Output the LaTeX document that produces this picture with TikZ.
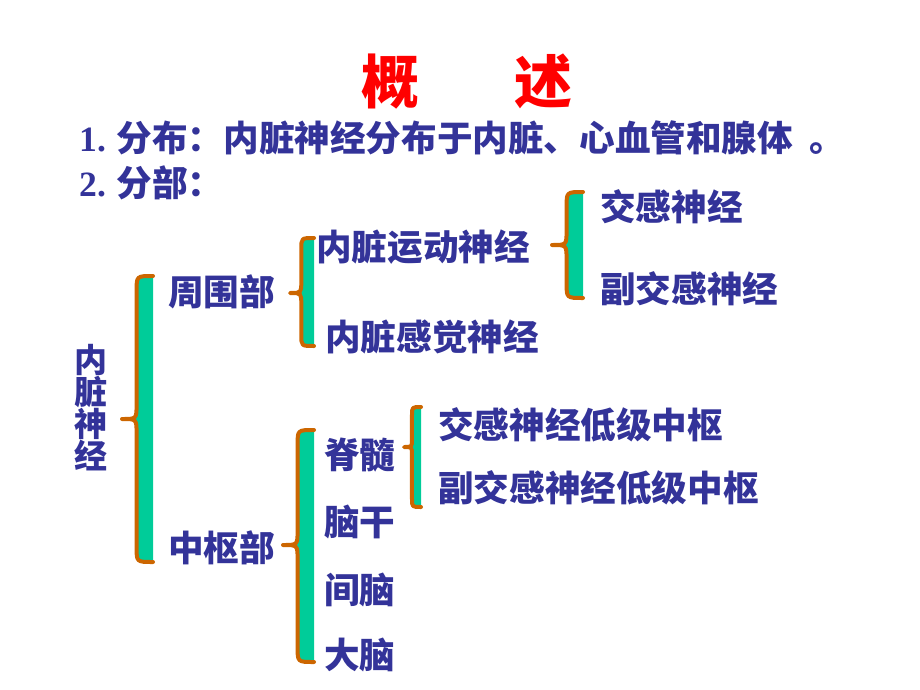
\documentclass[tikz,border=0pt]{standalone}
\usepackage{fontspec}
\usepackage{xcolor}
\usepackage{tikz}
\usetikzlibrary{positioning, calc}

\newfontfamily\cjk{Noto Sans CJK SC}
\newfontfamily\numfont{Liberation Serif}

\definecolor{txtblue}{RGB}{51,51,153}
\definecolor{braceorange}{RGB}{204,102,0}
\definecolor{braceteal}{RGB}{0,204,153}

% curly brace: tip x, right x, top y, bottom y, tip y
\newcommand{\nbrace}[5]{%
	\pgfmathsetmacro{\bsx}{#1+0.47*(#2-#1)}%
	\pgfmathsetmacro{\bcr}{0.9*(#2-\bsx)}%
	\pgfmathsetmacro{\bcq}{1.0*(\bsx-#1)}%
	\fill[braceteal] (#2,#3) .. controls (\bsx,#3) .. (\bsx,#3+\bcr) -- (\bsx,#5-\bcq)
		.. controls (\bsx,#5) .. (#1,#5) .. controls (\bsx,#5) .. (\bsx,#5+\bcq)
		-- (\bsx,#4-\bcr) .. controls (\bsx,#4) .. (#2,#4) -- cycle;
	\draw[braceline] (#2,#3) .. controls (\bsx,#3) .. (\bsx,#3+\bcr) -- (\bsx,#5-\bcq)
		.. controls (\bsx,#5) .. (#1,#5) .. controls (\bsx,#5) .. (\bsx,#5+\bcq)
		-- (\bsx,#4-\bcr) .. controls (\bsx,#4) .. (#2,#4);
}

\begin{document}
\begin{tikzpicture}[
		x=1pt, y=-1pt,
		title/.style={font=\cjk\bfseries\fontsize{58}{60}\selectfont, text=red, inner sep=0pt},
		txt/.style={font=\cjk\bfseries\fontsize{35.6}{40}\selectfont, text=txtblue, inner sep=0pt, anchor=west},
		vtxt/.style={font=\cjk\bfseries\fontsize{33}{32}\selectfont, text=txtblue, inner sep=0pt, align=center},
		braceline/.style={draw=braceorange, line width=4pt, line join=round, line cap=round}
		]
		
		\useasboundingbox (0,0) rectangle (920,690);
		
		% Title and intro lines
		\node[title] (head) at (467,82) {概\hspace{96pt}述};
		\node[txt] (line1) at (79,138) {{\numfont\bfseries 1.} 分布：内脏神经分布于内脏、心血管和腺体\hspace{0.45em}。};
		\node[txt] (line2) at (79,183) {{\numfont\bfseries 2.} 分部：};
		
		% Root
		\node[vtxt] (root) at (91,408) {内\\脏\\神\\经};
		
		% Peripheral part
		\node[txt] (peri) at (168,292) {周围部};
		\node[txt] (motor) at (316,247) {内脏运动神经};
		\node[txt] (sensory) at (325,337) {内脏感觉神经};
		\node[txt] (symp) at (600,207) {交感神经};
		\node[txt] (parasymp) at (600,289) {副交感神经};
		
		% Central part
		\node[txt] (central) at (168,548) {中枢部};
		\node[txt] (spinal) at (324,455) {脊髓};
		\node[txt] (stem) at (324,522) {脑干};
		\node[txt] (dien) at (324,590) {间脑};
		\node[txt] (cerebrum) at (324,655) {大脑};
		\node[txt] (sympc) at (438,425) {交感神经低级中枢};
		\node[txt] (parasympc) at (438,488) {副交感神经低级中枢};
		
		% Braces
		\nbrace{122}{153}{276}{562}{419}
		\nbrace{290}{314}{238}{346}{293}
		\nbrace{552}{583}{192}{298}{245}
		\nbrace{283}{314}{430}{662}{545}
		\nbrace{404}{421}{407}{507}{447}
		
	\end{tikzpicture}
\end{document}
